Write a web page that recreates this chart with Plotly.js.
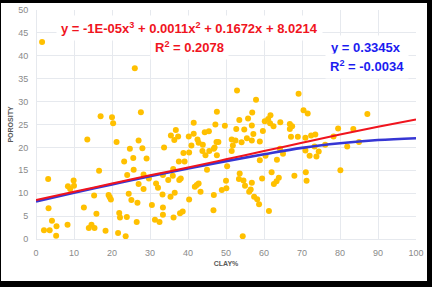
<!DOCTYPE html>
<html>
<head>
<meta charset="utf-8">
<script src="https://cdn.plot.ly/plotly-3.0.1.min.js"></script>
<style>
  html, body { margin: 0; padding: 0; background: #000; width: 432px; height: 287px; overflow: hidden; }
  #chart { position: absolute; left: 1px; top: 3px; width: 426px; height: 278px; background: #fff; }
</style>
</head>
<body>
<div id="chart"></div>
<script>
// Scatter data: CLAY% (x) vs POROSITY (y)
const clay = [
  1.6, 26.0, 27.6, 17.0, 20.0, 20.3, 13.5, 21.2, 24.7, 23.2, 16.6, 24.0, 3.2, 9.9, 8.4, 9.0, 10.0, 15.3, 19.1, 19.4,
  19.7, 24.4, 3.3, 12.6, 15.9, 21.9, 22.1, 23.9, 4.2, 8.3, 5.4, 2.1, 3.6, 5.3, 14.6, 13.9, 15.4, 18.3, 21.6, 23.6,
  47.6, 41.5, 47.2, 36.8, 35.5, 37.4, 36.4, 41.5, 40.2, 44.4, 45.5, 42.5, 42.8, 43.9, 40.9, 47.5, 48.0, 46.8, 45.6, 43.8,
  44.6, 47.6, 47.0, 27.0, 28.0, 33.7, 38.8, 40.3, 25.6, 29.1, 37.6, 39.1, 45.0, 25.7, 28.3, 29.7, 36.1, 36.0, 34.8, 37.7,
  38.1, 33.4, 27.0, 28.3, 31.6, 32.1, 33.3, 35.4, 36.5, 42.3, 42.8, 41.8, 43.3, 46.8, 48.9, 25.1, 26.7, 30.5, 33.4, 40.3,
  33.4, 31.3, 32.5, 36.2, 37.9, 38.6, 46.7, 26.5,
  52.9, 69.1, 57.9, 70.4, 71.5, 56.9, 55.8, 53.5, 61.7, 61.1, 60.2, 61.6, 62.5, 64.3, 66.8, 67.4, 66.8, 49.7, 56.8, 52.7,
  54.8, 59.7, 57.2, 55.5, 56.8, 58.9, 51.5, 52.5, 54.1, 51.8, 51.5, 67.1, 68.9, 70.9, 72.4, 73.5, 64.2, 65.0, 63.4, 58.9,
  60.4, 70.9, 72.0, 73.8, 74.4, 50.3, 50.0, 50.1, 53.6, 53.4, 54.6, 55.0, 56.8, 59.5, 62.0, 63.9, 63.3, 62.6, 68.0, 71.0,
  71.2, 56.5, 56.1, 57.4, 58.2, 58.7, 61.3, 54.4,
  87.2, 79.5, 83.5, 78.3, 85.0, 76.1, 81.9, 80.1, 73.3
];
const porosity = [
  43.0, 37.3, 27.7, 26.8, 26.6, 25.3, 21.7, 21.2, 19.7, 16.9, 14.9, 14.0, 13.1, 12.8, 11.5, 10.9, 11.6, 9.5, 9.6, 9.1,
  8.6, 9.9, 6.7, 6.9, 5.5, 5.7, 4.7, 4.8, 4.0, 3.1, 2.8, 1.9, 1.9, 0.7, 3.1, 2.4, 2.4, 1.8, 1.3, 0.6,
  27.8, 25.4, 25.0, 23.8, 22.6, 22.4, 21.6, 23.0, 22.4, 23.3, 23.5, 21.7, 21.0, 20.6, 20.4, 21.2, 21.2, 19.7, 19.2, 19.2,
  18.3, 18.3, 20.0, 21.5, 19.8, 20.0, 18.8, 18.9, 17.7, 17.6, 16.9, 16.9, 15.1, 15.1, 14.1, 13.2, 15.3, 13.8, 12.9, 12.9,
  13.2, 14.0, 12.0, 10.9, 12.1, 11.2, 9.7, 9.2, 10.1, 11.8, 12.1, 11.4, 10.3, 9.6, 10.7, 8.5, 7.9, 7.4, 6.9, 8.6,
  5.3, 4.2, 3.7, 4.7, 5.6, 6.0, 6.3, 3.7,
  32.4, 31.7, 30.4, 28.1, 27.4, 27.6, 26.3, 26.0, 27.0, 26.2, 25.7, 25.3, 24.6, 25.5, 25.1, 24.6, 24.0, 24.7, 24.8, 24.0,
  23.9, 23.6, 22.9, 22.0, 21.5, 21.3, 21.7, 21.5, 21.1, 20.4, 19.2, 22.3, 22.3, 22.1, 22.6, 22.8, 19.7, 18.6, 17.3, 17.2,
  18.2, 19.3, 18.2, 18.0, 19.1, 15.9, 12.7, 11.1, 14.3, 13.1, 12.8, 11.6, 12.3, 13.2, 14.6, 13.4, 12.6, 12.0, 13.8, 14.6,
  12.7, 10.8, 10.3, 9.2, 8.7, 7.6, 6.1, 0.6,
  27.3, 24.1, 24.0, 22.4, 21.2, 20.6, 20.2, 15.0, 20.2
];

// Trend lines as drawn in the picture (values read at these x positions)
const trendX = [0, 10, 20, 30, 40, 50, 60, 70, 80, 90, 100];
const polyTrend = [8.5, 10.3, 12.1, 13.9, 15.6, 17.4, 19.2, 21.0, 22.8, 24.5, 26.1];
const blueTrend = [8.2, 10.1, 11.9, 13.7, 15.4, 17.0, 18.5, 19.9, 20.9, 21.6, 22.0];

// Texts
const polyEq = "y = -1E-05x<sup>3</sup> + 0.0011x<sup>2</sup> + 0.1672x + 8.0214";
const polyR2 = "R<sup>2</sup> = 0.2078";
const linEq = "y = 0.3345x";
const linR2 = "R<sup>2</sup> = -0.0034";
const xTitle = "CLAY%";
const yTitle = "POROSITY";

const RED = "#f0141e";
const BLUE = "#1c1cf0";
const eqFont = (c) => ({ family: "Liberation Sans, Arial, sans-serif", size: 13, color: c, weight: "bold" });

const traces = [
  {
    x: clay, y: porosity, type: "scatter", mode: "markers",
    marker: { color: "#FFC000", size: 6 },
    hoverinfo: "skip", showlegend: false
  },
  {
    x: trendX, y: blueTrend, type: "scatter", mode: "lines",
    line: { color: "#3636d4", width: 2.6, shape: "spline" },
    hoverinfo: "skip", showlegend: false
  },
  {
    x: trendX, y: polyTrend, type: "scatter", mode: "lines",
    line: { color: RED, width: 2, shape: "spline" },
    hoverinfo: "skip", showlegend: false
  }
];

const tickFont = { family: "Liberation Sans, Arial, sans-serif", size: 9, color: "#8a8a8a" };
const titleFont = { family: "Liberation Sans, Arial, sans-serif", size: 7, color: "#595959", weight: "bold" };

const layout = {
  width: 426, height: 278,
  margin: { l: 35, r: 11, t: 7, b: 42 },
  paper_bgcolor: "#ffffff",
  plot_bgcolor: "#ffffff",
  showlegend: false,
  xaxis: {
    range: [0, 100], dtick: 10, tick0: 0,
    showgrid: true, gridcolor: "#e6e9ee", gridwidth: 1,
    zeroline: true, zerolinecolor: "#e6e9ee", zerolinewidth: 1,
    showline: false,
    ticks: "outside", ticklen: 5, tickcolor: "rgba(0,0,0,0)",
    tickfont: tickFont,
    title: { text: xTitle, font: titleFont, standoff: 4 },
    automargin: false, fixedrange: true
  },
  yaxis: {
    range: [0, 50], dtick: 5, tick0: 0,
    showgrid: true, gridcolor: "#e6e9ee", gridwidth: 1,
    zeroline: true, zerolinecolor: "#e6e9ee", zerolinewidth: 1,
    showline: false,
    ticks: "outside", ticklen: 5, tickcolor: "rgba(0,0,0,0)",
    tickfont: tickFont,
    title: { text: yTitle, font: titleFont, standoff: 3 },
    automargin: false, fixedrange: true
  },
  annotations: [
    { text: polyEq, xref: "paper", yref: "paper", x: 0.405, y: 0.921, xanchor: "center", yanchor: "middle",
      showarrow: false, font: eqFont(RED), bgcolor: "#ffffff", borderpad: 4 },
    { text: polyR2, xref: "paper", yref: "paper", x: 0.405, y: 0.838, xanchor: "center", yanchor: "middle",
      showarrow: false, font: eqFont(RED), bgcolor: "#ffffff", borderpad: 4 },
    { text: linEq, xref: "paper", yref: "paper", x: 0.868, y: 0.838, xanchor: "center", yanchor: "middle",
      showarrow: false, font: eqFont(BLUE), bgcolor: "#ffffff", borderpad: 4 },
    { text: linR2, xref: "paper", yref: "paper", x: 0.871, y: 0.755, xanchor: "center", yanchor: "middle",
      showarrow: false, font: eqFont(BLUE), bgcolor: "#ffffff", borderpad: 4 }
  ]
};

Plotly.newPlot("chart", traces, layout, { staticPlot: true, displayModeBar: false });
</script>
</body>
</html>
